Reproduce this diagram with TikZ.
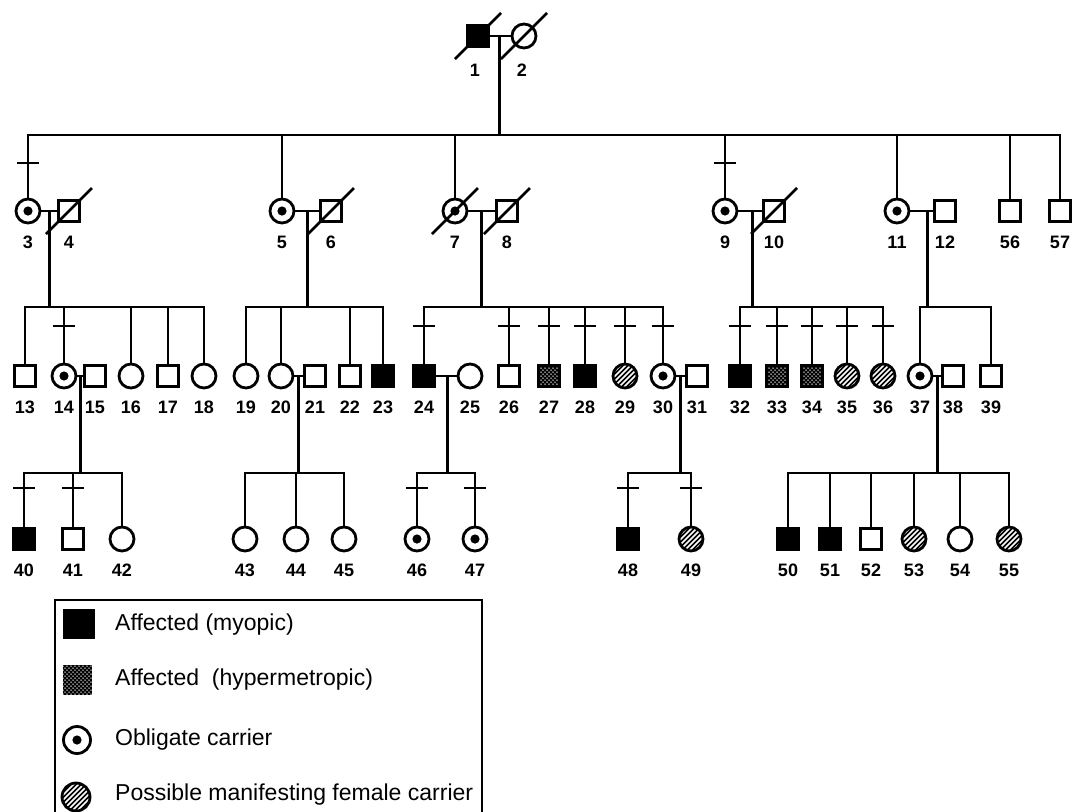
\documentclass[tikz,border=0pt]{standalone}
\usepackage{fontspec}
\setmainfont{Liberation Sans}
\usetikzlibrary{calc}
\begin{document}
\begin{tikzpicture}[x=1pt,y=-1pt,
  lw/.style={line width=2.8pt},
  num/.style={font=\fontsize{18}{18}\selectfont\bfseries, inner sep=0pt},
  male/.style={draw, line width=2.8pt, rectangle, minimum size=21.5pt, inner sep=0pt,
    nl/.style={label={[num,label distance=12.5pt]below:##1}}},
  female/.style={draw, line width=2.8pt, circle, minimum size=24pt, inner sep=0pt,
    nl/.style={label={[num,label distance=11.3pt]below:##1}}},
  aff/.style={fill=black},
  carrier/.style={path picture={\fill[black] (path picture bounding box.center) circle (4.6pt);}},
  hatch/.style={fill=black, path picture={
      \foreach \i in {-40,-35,...,40} {\draw[white,line width=1.5pt] (path picture bounding box.center) ++(\i pt,0pt) ++(-25pt,-25pt) -- ++(50pt,50pt);}}},
  stip/.style={fill=black, path picture={
      \foreach \a in {-16,-12,...,16} {\foreach \b in {-16,-12,...,16} {\fill[white] (path picture bounding box.center) ++(\a pt,\b pt) circle (0.75pt);}}
      \foreach \a in {-14,-10,...,14} {\foreach \b in {-14,-10,...,14} {\fill[white] (path picture bounding box.center) ++(\a pt,\b pt) circle (0.75pt);}}}},
  legtxt/.style={font=\fontsize{23}{24}\selectfont, inner sep=0pt, anchor=base west},
]
\useasboundingbox (0,0) rectangle (1080,812);

% ---------- generation I ----------
\node[male,aff,label={[num,label distance=15.5pt,xshift=-3pt]below:1}] (p1) at (478,36) {};
\node[female,label={[num,label distance=14pt,xshift=-2pt]below:2}] (p2) at (524,36) {};

% ---------- generation II ----------
\node[female,carrier,nl=3] (p3) at (28,211) {};
\node[male,nl=4] (p4) at (69,211) {};
\node[female,carrier,nl=5] (p5) at (282,211) {};
\node[male,nl=6] (p6) at (331,211) {};
\node[female,carrier,nl=7] (p7) at (455,211) {};
\node[male,nl=8] (p8) at (507,211) {};
\node[female,carrier,nl=9] (p9) at (725,211) {};
\node[male,nl=10] (p10) at (774,211) {};
\node[female,carrier,nl=11] (p11) at (897,211) {};
\node[male,nl=12] (p12) at (945,211) {};
\node[male,nl=56] (p56) at (1010,211) {};
\node[male,nl=57] (p57) at (1060,211) {};

% ---------- generation III ----------
\node[male,nl=13] (p13) at (25,376) {};
\node[female,carrier,nl=14] (p14) at (64,376) {};
\node[male,nl=15] (p15) at (95,376) {};
\node[female,nl=16] (p16) at (131,376) {};
\node[male,nl=17] (p17) at (168,376) {};
\node[female,nl=18] (p18) at (204,376) {};
\node[female,nl=19] (p19) at (246,376) {};
\node[female,nl=20] (p20) at (281,376) {};
\node[male,nl=21] (p21) at (315,376) {};
\node[male,nl=22] (p22) at (350,376) {};
\node[male,aff,nl=23] (p23) at (383,376) {};
\node[male,aff,nl=24] (p24) at (424,376) {};
\node[female,nl=25] (p25) at (470,376) {};
\node[male,nl=26] (p26) at (509,376) {};
\node[male,stip,nl=27] (p27) at (549,376) {};
\node[male,aff,nl=28] (p28) at (585,376) {};
\node[female,hatch,nl=29] (p29) at (625,376) {};
\node[female,carrier,nl=30] (p30) at (663,376) {};
\node[male,nl=31] (p31) at (697,376) {};
\node[male,aff,nl=32] (p32) at (740,376) {};
\node[male,stip,nl=33] (p33) at (777,376) {};
\node[male,stip,nl=34] (p34) at (812,376) {};
\node[female,hatch,nl=35] (p35) at (847,376) {};
\node[female,hatch,nl=36] (p36) at (883,376) {};
\node[female,carrier,nl=37] (p37) at (920,376) {};
\node[male,nl=38] (p38) at (953,376) {};
\node[male,nl=39] (p39) at (991,376) {};

% ---------- generation IV ----------
\node[male,aff,nl=40] (p40) at (24,539) {};
\node[male,nl=41] (p41) at (73,539) {};
\node[female,nl=42] (p42) at (122,539) {};
\node[female,nl=43] (p43) at (245,539) {};
\node[female,nl=44] (p44) at (296,539) {};
\node[female,nl=45] (p45) at (344,539) {};
\node[female,carrier,nl=46] (p46) at (417,539) {};
\node[female,carrier,nl=47] (p47) at (475,539) {};
\node[male,aff,nl=48] (p48) at (628,539) {};
\node[female,hatch,nl=49] (p49) at (691,539) {};
\node[male,aff,nl=50] (p50) at (788,539) {};
\node[male,aff,nl=51] (p51) at (830,539) {};
\node[male,nl=52] (p52) at (871,539) {};
\node[female,hatch,nl=53] (p53) at (914,539) {};
\node[female,nl=54] (p54) at (960,539) {};
\node[female,hatch,nl=55] (p55) at (1009,539) {};

% ---------- levels ----------
\coordinate (sII) at (0,135);
\coordinate (sIII) at (0,307);
\coordinate (sIV) at (0,473);
\coordinate (tII) at (0,163);
\coordinate (tIII) at (0,326);
\coordinate (tIV) at (0,488);

% ---------- marriages ----------
\foreach \a/\b in {p1/p2,p3/p4,p5/p6,p7/p8,p9/p10,p11/p12,p14/p15,p20/p21,p24/p25,p30/p31,p37/p38}
  {\draw[lw] (\a.east) -- (\b.west);}
\coordinate (m12) at ($(p1.east)!0.45!(p2.west)$);
\coordinate (m34) at ($(p3.east)!0.5!(p4.west)$);
\coordinate (m56) at ($(p5.east)!0.5!(p6.west)$);
\coordinate (m78) at ($(p7.east)!0.5!(p8.west)$);
\coordinate (m910) at ($(p9.east)!0.6!(p10.west)$);
\coordinate (m1112) at ($(p11.east)!0.75!(p12.west)$);
\coordinate (m1415) at ($(p14.east)!0.5!(p15.west)$);
\coordinate (m2021) at ($(p20.east)!0.5!(p21.west)$);
\coordinate (m2425) at ($(p24.east)!0.57!(p25.west)$);
\coordinate (m3031) at ($(p30.east)!0.5!(p31.west)$);
\coordinate (m3738) at ($(p37.east)!0.5!(p38.west)$);

% ---------- descents and sibships ----------
\draw[lw] (m12) -- (m12 |- sII);
\draw[lw] (p3.north) -- (p3.north |- sII) -- (p57.north |- sII) -- (p57.north);
\foreach \c in {p5,p7,p9,p11,p56} {\draw[lw] (\c.north |- sII) -- (\c.north);}

\foreach \m/\f/\l/\inner in {m34/p13/p18/{p14,p16,p17},m56/p19/p23/{p20,p22},m78/p24/p30/{p26,p27,p28,p29},m910/p32/p36/{p33,p34,p35},m1112/p37/p39/{}}
{
  \draw[lw] (\m) -- (\m |- sIII);
  \draw[lw] (\f.north) -- (\f.north |- sIII) -- (\l.north |- sIII) -- (\l.north);
  \foreach \c in \inner {\draw[lw] (\c.north |- sIII) -- (\c.north);}
}

\foreach \m/\f/\l/\inner in {m1415/p40/p42/{p41},m2021/p43/p45/{p44},m2425/p46/p47/{},m3031/p48/p49/{},m3738/p50/p55/{p51,p52,p53,p54}}
{
  \draw[lw] (\m) -- (\m |- sIV);
  \draw[lw] (\f.north) -- (\f.north |- sIV) -- (\l.north |- sIV) -- (\l.north);
  \foreach \c in \inner {\draw[lw] (\c.north |- sIV) -- (\c.north);}
}

% ---------- ticks ----------
\foreach \c in {p3,p9} {\draw[lw] ($(\c.north |- tII)+(-11,0)$) -- ($(\c.north |- tII)+(11,0)$);}
\foreach \c in {p14,p24,p26,p27,p28,p29,p30,p32,p33,p34,p35,p36} {\draw[lw] ($(\c.north |- tIII)+(-11,0)$) -- ($(\c.north |- tIII)+(11,0)$);}
\foreach \c in {p40,p41,p46,p47,p48,p49} {\draw[lw] ($(\c.north |- tIV)+(-11,0)$) -- ($(\c.north |- tIV)+(11,0)$);}

% ---------- deceased ----------
\foreach \c in {p1,p2,p4,p6,p7,p8,p10} {\draw[lw] ($(\c)+(-23,23)$) -- ($(\c)+(23,-23)$);}

% ---------- legend ----------
\draw[line width=1.6pt] (55,812) -- (55,600) -- (482,600) -- (482,812);
\node[fill=black, minimum width=32pt, minimum height=30pt, inner sep=0pt] (k1) at (79,624) {};
\node[stip, minimum width=29pt, minimum height=30pt, inner sep=0pt] (k2) at (77,680) {};
\node[female, carrier, minimum size=27pt] (k3) at (77,740) {};
\node[female, hatch, minimum size=28pt] (k4) at (76,797) {};
\node[legtxt] (t1) at (115,630) {Affected (myopic)};
\node[legtxt] (t2) at (115,685) {Affected\ \ (hypermetropic)};
\node[legtxt] (t3) at (115,745) {Obligate carrier};
\node[legtxt] (t4) at (115,800) {Possible manifesting female carrier};
\end{tikzpicture}
\end{document}
